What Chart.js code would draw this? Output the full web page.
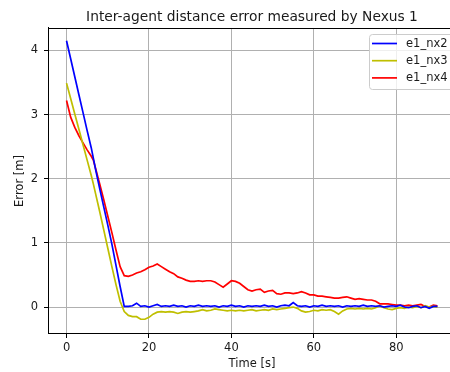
<!DOCTYPE html>
<html>
<head>
<meta charset="utf-8">
<title>Inter-agent distance error measured by Nexus 1</title>
<script src="https://cdn.jsdelivr.net/npm/chart.js@4.4.1/dist/chart.umd.min.js"></script>
<style>
  html, body { margin: 0; padding: 0; overflow: hidden; background: #fff; width: 450px; height: 372px; }
  #wrap { position: relative; width: 456px; height: 372px; }
  canvas { display: block; }
</style>
</head>
<body>
<div id="wrap"><canvas id="chart" width="456" height="372"></canvas></div>
<script>
// Sample times [s]
const times = [
  0, 1, 2, 3, 4, 5, 6, 6.5, 7, 8, 9, 10, 11, 12, 13, 14,
  15, 16, 17, 18, 19, 20, 21, 22, 23, 24,
  25, 26, 27, 28, 29, 30, 31, 32, 33, 34,
  35, 36, 37, 38, 39, 40, 41, 42, 43, 44,
  45, 46, 47, 48, 49, 50, 51, 52, 53, 54,
  55, 56, 57, 58, 59, 60, 61, 62, 63, 64,
  65, 66, 67, 68, 69, 70, 71, 72, 73, 74,
  75, 76, 77, 78, 79, 80, 81, 82, 83, 84,
  85, 86, 87, 88, 89, 90
];

// Distance error to Nexus 2 [m]
const e1_nx2 = [
  4.15, 3.87, 3.59, 3.31, 3.03, 2.75, 2.48, 2.32, 2.16, 1.86, 1.57, 1.28, 0.98, 0.65, 0.32, 0.01,
  0.01, 0.02, 0.06, 0.01, 0.02, 0.00, 0.02, 0.04, 0.01, 0.02,
  0.01, 0.03, 0.01, 0.02, 0.00, 0.02, 0.01, 0.03, 0.01, 0.02,
  0.01, 0.02, 0.00, 0.02, 0.01, 0.03, 0.01, 0.02, 0.00, 0.02,
  0.01, 0.02, 0.01, 0.03, 0.01, 0.02, 0.00, 0.02, 0.03, 0.02,
  0.07, 0.02, 0.01, 0.02, 0.00, 0.02, 0.01, 0.03, 0.01, 0.02,
  0.01, 0.02, 0.00, 0.02, 0.01, 0.02, 0.01, 0.03, 0.01, 0.02,
  0.01, 0.02, 0.00, 0.01, 0.02, 0.01, 0.03, 0.00, -0.01, 0.01,
  0.02, -0.01, 0.01, -0.02, 0.01, 0.01
];

// Distance error to Nexus 3 [m]
const e1_nx3 = [
  3.49, 3.25, 3.01, 2.77, 2.53, 2.29, 2.05, 1.92, 1.78, 1.50, 1.21, 0.92, 0.63, 0.35, 0.09, -0.07,
  -0.13, -0.15, -0.15, -0.19, -0.19, -0.16, -0.11, -0.08, -0.07, -0.08,
  -0.07, -0.08, -0.10, -0.08, -0.07, -0.08, -0.07, -0.06, -0.04, -0.06,
  -0.05, -0.03, -0.04, -0.05, -0.06, -0.05, -0.06, -0.05, -0.06, -0.05,
  -0.04, -0.06, -0.05, -0.04, -0.05, -0.03, -0.04, -0.03, -0.02, -0.01,
  0.00, -0.02, -0.06, -0.08, -0.07, -0.05, -0.06, -0.04, -0.05, -0.04,
  -0.07, -0.11, -0.06, -0.03, -0.02, -0.03, -0.02, -0.03, -0.02, -0.03,
  -0.01, 0.02, -0.01, -0.03, -0.04, -0.02, -0.01, -0.02, 0.00, -0.01,
  0.01, -0.01, 0.02, 0.00, 0.01, 0.00
];

// Distance error to Nexus 4 [m]
const e1_nx4 = [
  3.22, 2.96, 2.80, 2.67, 2.56, 2.45, 2.35, 2.29, 2.17, 1.93, 1.68, 1.42, 1.16, 0.89, 0.63, 0.49,
  0.48, 0.50, 0.53, 0.55, 0.58, 0.62, 0.64, 0.67, 0.63, 0.59,
  0.55, 0.52, 0.47, 0.45, 0.42, 0.40, 0.40, 0.41, 0.40, 0.41,
  0.41, 0.39, 0.35, 0.31, 0.36, 0.41, 0.40, 0.37, 0.32, 0.27,
  0.25, 0.27, 0.28, 0.23, 0.25, 0.26, 0.21, 0.20, 0.22, 0.22,
  0.21, 0.22, 0.24, 0.22, 0.19, 0.19, 0.17, 0.17, 0.16, 0.15,
  0.14, 0.14, 0.15, 0.16, 0.14, 0.12, 0.13, 0.12, 0.11, 0.11,
  0.09, 0.05, 0.05, 0.05, 0.04, 0.03, 0.03, 0.02, 0.03, 0.02,
  0.03, 0.04, 0.01, 0.00, 0.03, 0.02
];

const seriesNames = ['e1_nx2', 'e1_nx3', 'e1_nx4'];
const seriesColors = ['#0000ff', '#bfbf00', '#ff0000'];
const seriesValues = [e1_nx2, e1_nx3, e1_nx4];

const FONT = 'DejaVu Sans';
const TEXT = '#1a1a1a';

// Top spine and the in-axes legend box
const frameAndLegend = {
  id: 'frameAndLegend',
  afterDraw(chart) {
    const { ctx, chartArea: a } = chart;
    ctx.save();
    ctx.strokeStyle = '#000';
    ctx.lineWidth = 1;
    ctx.beginPath();
    ctx.moveTo(a.left, Math.round(a.top) + 0.5);
    ctx.lineTo(a.right, Math.round(a.top) + 0.5);
    ctx.stroke();
    ctx.beginPath();
    ctx.moveTo(Math.round(a.right) - 0.5, a.top);
    ctx.lineTo(Math.round(a.right) - 0.5, a.bottom);
    ctx.stroke();

    const bx = 369.5, by = 34.5, bw = 110, bh = 55;
    ctx.beginPath();
    ctx.roundRect(bx, by, bw, bh, 3);
    ctx.fillStyle = 'rgba(255,255,255,0.8)';
    ctx.fill();
    ctx.strokeStyle = '#cccccc';
    ctx.stroke();

    ctx.font = '11.5px "' + FONT + '"';
    ctx.textBaseline = 'middle';
    ctx.textAlign = 'left';
    chart.data.datasets.forEach((ds, i) => {
      const y = 43.5 + i * 17.2;
      ctx.strokeStyle = ds.borderColor;
      ctx.lineWidth = 1.7;
      ctx.beginPath();
      ctx.moveTo(372, y);
      ctx.lineTo(397, y);
      ctx.stroke();
      ctx.fillStyle = TEXT;
      ctx.fillText(ds.label, 406, y + 0.5);
    });
    ctx.restore();
  }
};

const datasets = seriesNames.map((name, i) => ({
  label: name,
  data: times.map((t, k) => ({ x: t, y: seriesValues[i][k] })),
  borderColor: seriesColors[i],
  backgroundColor: seriesColors[i],
  borderWidth: 1.7,
  pointRadius: 0,
  tension: 0,
  fill: false
}));

new Chart(document.getElementById('chart'), {
  type: 'line',
  data: { datasets },
  options: {
    responsive: false,
    animation: false,
    devicePixelRatio: 1,
    layout: { padding: 0 },
    plugins: {
      legend: { display: false },
      tooltip: { enabled: false },
      title: {
        display: true,
        text: 'Inter-agent distance error measured by Nexus 1',
        fullSize: false,
        color: TEXT,
        font: { family: FONT, size: 13.8, weight: 'normal' },
        padding: { top: 9, bottom: 2.4 }
      }
    },
    scales: {
      x: {
        type: 'linear',
        min: -4.5,
        max: 94.5,
        afterFit: s => { s.height = 38; },
        ticks: {
          stepSize: 20,
          includeBounds: false,
          color: TEXT,
          font: { family: FONT, size: 11.5 },
          padding: 3.5,
          maxRotation: 0
        },
        grid: { color: '#b0b0b0', lineWidth: 1, tickColor: '#000', tickLength: 4, drawTicks: true },
        border: { color: '#000', width: 1 },
        title: {
          display: true,
          text: 'Time [s]',
          color: TEXT,
          font: { family: FONT, size: 11.5 },
          padding: { top: 0, bottom: 0.6 }
        }
      },
      y: {
        type: 'linear',
        min: -0.42,
        max: 4.35,
        afterFit: s => { s.width = 48; },
        ticks: {
          stepSize: 1,
          includeBounds: false,
          color: TEXT,
          font: { family: FONT, size: 11.5 },
          padding: 6
        },
        grid: { color: '#b0b0b0', lineWidth: 1, tickColor: '#000', tickLength: 4, drawTicks: true },
        border: { color: '#000', width: 1 },
        title: {
          display: true,
          text: 'Error [m]',
          color: TEXT,
          font: { family: FONT, size: 11.5 },
          padding: { top: 13.6, bottom: 0 }
        }
      }
    }
  },
  plugins: [frameAndLegend]
});
</script>
</body>
</html>
